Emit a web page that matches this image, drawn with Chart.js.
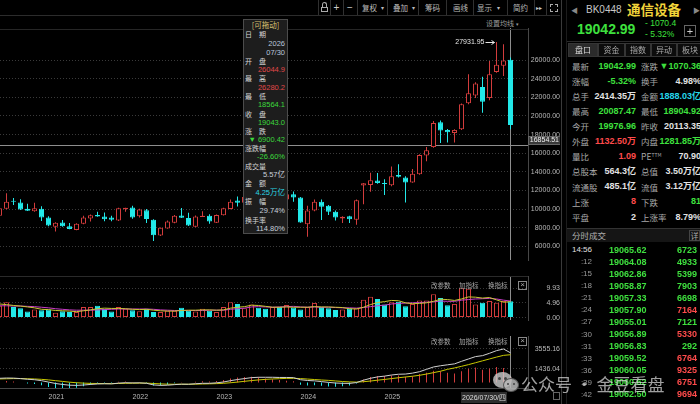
<!DOCTYPE html>
<html><head><meta charset="utf-8">
<script src="https://cdn.jsdelivr.net/npm/chart.js@4.4.1/dist/chart.umd.min.js"></script>
<style>
html,body{margin:0;padding:0;background:#000;}
body{width:700px;height:404px;overflow:hidden;position:relative;font-family:"Noto Sans CJK SC","Liberation Sans",sans-serif;color:#bbb;}
.a{position:absolute;white-space:nowrap;line-height:1;}
.wrap{position:absolute;}
</style></head><body>
<div class="wrap" style="left:0;top:28px;width:560px;height:248px"><canvas id="cPrice"></canvas></div>
<div class="wrap" style="left:0;top:276px;width:560px;height:60px"><canvas id="cVol"></canvas></div>
<div class="wrap" style="left:0;top:336px;width:560px;height:68px"><canvas id="cMacd"></canvas></div>
<div id="ov"></div>
<script>
// ---------------- data ----------------
const months = ['2020-06','2020-07','2020-08','2020-09','2020-10','2020-11','2020-12',
'2021-01','2021-02','2021-03','2021-04','2021-05','2021-06','2021-07','2021-08','2021-09','2021-10','2021-11','2021-12',
'2022-01','2022-02','2022-03','2022-04','2022-05','2022-06','2022-07','2022-08','2022-09','2022-10','2022-11','2022-12',
'2023-01','2023-02','2023-03','2023-04','2023-05','2023-06','2023-07','2023-08','2023-09','2023-10','2023-11','2023-12',
'2024-01','2024-02','2024-03','2024-04','2024-05','2024-06','2024-07','2024-08','2024-09','2024-10','2024-11','2024-12',
'2025-01','2025-02','2025-03','2025-04','2025-05','2025-06','2025-07','2025-08','2025-09','2025-10','2025-11','2025-12',
'2026-01','2026-02','2026-03','2026-04','2026-05','2026-06','2026-07'];
const open = [9300,10052,10860,10723,10052,9784,10052,9112,8105,8575,
8172,7769,8441,9011,9381,9213,9112,8777,9985,10187,
9247,9884,8877,7165,7937,8541,9314,9045,8105,9146,
9280,8541,9347,10019,10925,10700,11300,11900,11400,10900,
11350,11026,11596,11261,8374,9851,10791,10354,9717,9011,
9247,8877,12536,12604,13073,12805,12570,13678,13409,12872,
13744,15758,16664,19316,18510,18175,18578,21364,22203,23110,
21935,24721,25392,26044.9];
const high = [10300,11697,11193,11059,10589,10690,10321,9247,8609,8844,
8508,8500,9280,9414,9717,9649,9280,10153,10160,10354,
10052,10019,8910,8040,8777,9381,10120,9616,9314,9784,
9448,9420,10150,11025,11361,11500,12200,12100,11500,11600,
11450,11700,11898,11294,10354,11026,11026,10455,9851,9247,
9280,11026,12805,13913,13879,13208,14584,14819,13543,14316,
15890,16664,19451,19518,18611,18577,21331,24486,23613,24217,
25896,27931.95,27700,26280.2];
const low = [9200,10000,10455,9900,9790,9717,8743,8172,7601,8120,
7840,7730,8380,8676,9180,8709,8700,8740,9717,8978,
9110,8508,6595,7130,7900,8480,9040,8200,8070,9146,
8441,8510,9310,9985,10287,10550,11100,11200,10700,10800,
10850,10950,10791,8541,7031,9784,8844,9381,8777,8508,
8508,8340,10522,11865,12738,11529,12469,13409,10723,12840,
13700,15154,16600,17101,17168,17168,18510,21263,21935,20357,
21700,24650,24285,18564.1];
const close = [10100,10790,10800,9951,9817,10086,9112,8239,8541,8172,
7870,8441,9112,9347,9213,8911,8877,10086,10153,9112,
9951,8945,7199,8004,8676,9280,9079,8239,9213,9280,
8676,9381,10086,10790,10690,11300,11900,11400,10900,11350,
11000,11596,11261,8575,9851,10791,10254,9717,9112,9179,
8911,10958,12771,13107,12805,12704,13543,13476,12872,13790,
15825,16329,19249,18443,18242,18510,21263,22438,23479,21532,
24486,25493,25963,19043.0];
const volume = [3.97,5.21,3.56,3.14,2.07,2.73,2.48,2.73,1.66,2.15,
1.90,1.90,3.56,3.56,3.97,2.98,2.07,3.56,2.98,2.48,
2.15,2.98,1.90,1.90,2.32,2.32,3.31,2.32,2.07,2.98,
2.32,1.90,3.56,5.21,4.63,3.14,4.39,3.31,2.98,3.56,
3.56,4.22,3.39,2.73,3.56,4.97,3.56,3.14,2.57,2.73,
3.14,3.14,6.04,7.03,6.29,4.39,5.21,5.38,3.81,4.63,
5.79,5.79,7.94,6.62,4.14,4.63,9.93,9.76,4.39,5.05,
5.63,5.05,5.63,5.57];
const volMA5 = [4.6,4.4,4.1,3.9,3.6,3.3,2.8,2.7,2.4,2.3,
2.2,2.0,2.3,2.6,3.0,3.2,3.1,3.1,3.0,2.8,
2.7,2.8,2.5,2.3,2.2,2.2,2.4,2.5,2.5,2.6,
2.6,2.5,2.6,3.2,3.5,3.7,4.2,4.1,3.8,3.5,
3.5,3.6,3.5,3.5,3.5,3.7,3.6,3.6,3.5,3.4,
3.0,2.9,3.5,4.4,5.1,5.4,5.8,5.7,5.0,4.7,
4.8,5.0,5.5,6.2,6.1,5.8,6.3,7.0,6.9,6.6,
6.8,6.0,5.2,5.4];
const volMA10 = [4.0,4.0,3.9,3.9,3.8,3.7,3.5,3.3,3.0,2.8,
2.6,2.5,2.5,2.5,2.6,2.7,2.8,2.9,2.9,2.9,
2.9,2.9,2.8,2.6,2.5,2.4,2.4,2.4,2.4,2.4,
2.5,2.5,2.5,2.8,3.0,3.2,3.6,3.7,3.6,3.5,
3.6,3.7,3.8,3.6,3.5,3.6,3.5,3.5,3.4,3.3,
3.3,3.2,3.4,3.7,4.0,4.2,4.6,4.8,4.9,5.0,
5.1,5.2,5.3,5.6,5.5,5.5,5.9,6.1,6.3,6.4,
6.5,6.3,5.9,5.6];
const dif = [450,480,470,420,350,300,200,50,-100,-200,
-280,-300,-260,-200,-150,-130,-140,-60,-20,-40,
-30,-80,-250,-300,-280,-220,-170,-180,-130,-80,
-80,-30,60,200,320,420,520,560,560,560,
540,540,520,300,220,180,100,20,-50,-80,
-90,0,250,450,600,680,800,880,900,1000,
1150,1400,1650,1780,1880,1980,2250,2500,2750,2850,
3100,3380,3555.16,3150];
const dea = [380,400,420,420,400,380,340,280,200,120,
40,-20,-60,-90,-100,-110,-115,-100,-80,-70,
-60,-60,-100,-140,-170,-180,-180,-180,-170,-150,
-135,-115,-80,-20,50,130,210,280,340,380,
410,440,450,420,370,320,270,230,170,110,
70,50,90,160,250,330,420,510,590,670,
770,900,1050,1200,1400,1550,1720,1900,2100,2300,
2500,2700,2880,2950];
const macdHist = [140,160,100,0,-100,-160,-280,-460,-600,-620,
-600,-560,-400,-220,-100,-40,-50,80,120,60,
60,-40,-300,-320,-220,-80,20,0,80,140,
110,170,280,440,540,580,620,560,440,360,
260,200,140,-240,-300,-280,-340,-420,-440,-380,
-320,-100,320,580,700,700,760,740,620,660,
900,1050,1250,1200,1050,950,1200,1450,1600,1350,
1500,1650,1550,600];
const priceTicks = [6000,8000,10000,12000,14000,16000,18000,20000,22000,24000,26000];
const volTicks = [0,4.96,9.93];
const macdTicks = [1436.04,3555.16];
const cursorIndex = 73;
const cursorPrice = 16854.51;
const peakIndex = 71;

// ---------------- styling ----------------
const RED='#d23c3c', CYAN='#22e8e8', GRID='#3a3a3a', EDGE='#474747', LBL='#b8b8b8';
const AX_FONT={family:'Liberation Sans', size:7};
const X_MIN=0.5/7, X_MAX=(0.5+528)/7;
const idx = months.map((_,i)=>i);
const up = i => close[i] >= open[i];

const mctx=document.createElement('canvas').getContext('2d');
mctx.font='7px "Liberation Sans"';
function padFor(labels){ return Math.max(0, 31 - Math.max(...labels.map(s=>mctx.measureText(s).width))); }

function xAxis(show){
  return {type:'linear', min:X_MIN, max:X_MAX, offset:false, display:show,
    grid:{display:false, drawTicks:false},
    border:{display:show, color:EDGE},
    afterBuildTicks:s=>{ s.ticks = idx.filter(i=>months[i].endsWith('-01')).map(i=>({value:i})); },
    afterFit:s=>{ s.height=16; s.paddingLeft=0; s.paddingRight=0; },
    ticks:{autoSkip:false, maxRotation:0, minRotation:0, align:'start', padding:5, color:LBL, font:AX_FONT,
      callback:v=>months[v] ? months[v].slice(0,4) : ''}
  };
}
function yAxis(min,max,ticks,fmt){
  const labels = ticks.map(fmt);
  return {type:'linear', position:'right', min, max,
    afterBuildTicks:s=>{ s.ticks = ticks.map(v=>({value:v})); },
    afterFit:s=>{ s.width=32; s.paddingTop=0; s.paddingBottom=0; },
    grid:{color:GRID, drawTicks:false, lineWidth:1},
    border:{display:true, color:EDGE, dash:[1,2]},
    ticks:{crossAlign:'far', padding:padFor(labels), color:LBL, font:AX_FONT, callback:v=>fmt(v)}
  };
}

const cursorPlugin = {
  id:'cursor',
  beforeDatasetsDraw(chart, args, o){
    const {ctx, chartArea:a, scales:{x,y}} = chart;
    ctx.save(); ctx.strokeStyle='#8e8e8e'; ctx.lineWidth=1;
    const px = Math.floor(x.getPixelForValue(o.index))+0.5;
    ctx.beginPath(); ctx.moveTo(px, a.top); ctx.lineTo(px, a.bottom);
    if (o.price!=null){ const py=Math.floor(y.getPixelForValue(o.price))+0.5; ctx.moveTo(a.left,py); ctx.lineTo(a.right,py); }
    ctx.stroke(); ctx.restore();
  },
  afterDraw(chart, args, o){
    if (o.price==null) return;
    const {ctx, chartArea:a, scales:{x,y}} = chart;
    const py=Math.floor(y.getPixelForValue(o.price));
    ctx.save();
    ctx.fillStyle='#3a3a3a'; ctx.fillRect(a.right, py-9, 33, 9);
    ctx.strokeStyle='#666'; ctx.lineWidth=1; ctx.strokeRect(a.right+0.5, py-8.5, 32, 8);
    ctx.fillStyle='#f0f0f0'; ctx.font='7px "Liberation Sans"'; ctx.textAlign='right'; ctx.textBaseline='middle';
    ctx.fillText(o.price.toFixed(2), a.right+31, py-4.5);
    // peak annotation
    const hx = x.getPixelForValue(o.peak), hy = Math.round(y.getPixelForValue(high[o.peak]))+0.5;
    ctx.fillStyle='#e6e6e6'; ctx.fillText(high[o.peak].toFixed(2), hx-12, hy);
    ctx.strokeStyle='#e6e6e6'; ctx.beginPath(); ctx.moveTo(hx-11, hy); ctx.lineTo(hx-2, hy);
    ctx.moveTo(hx-5, hy-2); ctx.lineTo(hx-2, hy); ctx.lineTo(hx-5, hy+2); ctx.stroke();
    ctx.restore();
  }
};
const base = {animation:false, responsive:true, maintainAspectRatio:false, events:[], layout:{padding:0}};

new Chart(document.getElementById('cPrice'), {
  type:'bar',
  data:{datasets:[
    {label:'body', data:idx.map(i=>({x:i, y:[open[i], close[i]]})), grouped:false, barThickness:5, minBarLength:1, inflateAmount:0,
      backgroundColor:c=>up(c.dataIndex)?'#000':CYAN, borderColor:c=>up(c.dataIndex)?RED:CYAN, borderWidth:1, borderSkipped:false, order:0},
    {label:'wick', data:idx.map(i=>({x:i, y:[low[i], high[i]]})), grouped:false, barThickness:1, inflateAmount:0,
      backgroundColor:c=>up(c.dataIndex)?RED:CYAN, borderWidth:0, order:1}
  ]},
  options:Object.assign({}, base, {
    plugins:{legend:{display:false}, tooltip:{enabled:false}, cursor:{index:cursorIndex, price:cursorPrice, peak:peakIndex}},
    scales:{x:xAxis(false), y:yAxis(4544, 29444, priceTicks, v=>v.toFixed(2))}
  }),
  plugins:[cursorPlugin]
});

new Chart(document.getElementById('cVol'), {
  type:'bar',
  data:{datasets:[
    {type:'line', label:'MA5', data:idx.map(i=>({x:i, y:volMA5[i]})), borderColor:'#c8c832', borderWidth:1, pointRadius:0, order:0},
    {type:'line', label:'MA10', data:idx.map(i=>({x:i, y:volMA10[i]})), borderColor:'#c83cc8', borderWidth:1, pointRadius:0, order:0},
    {label:'vol', data:idx.map(i=>({x:i, y:volume[i]})), grouped:false, barThickness:5, inflateAmount:0,
      backgroundColor:c=>up(c.dataIndex)?'#000':CYAN, borderColor:c=>up(c.dataIndex)?RED:CYAN, borderWidth:1, borderSkipped:false, order:2}
  ]},
  options:Object.assign({}, base, {
    plugins:{legend:{display:false}, tooltip:{enabled:false}, cursor:{index:cursorIndex, price:null}},
    scales:{x:xAxis(false), y:yAxis(-0.82, 14.08, volTicks, v=>v.toFixed(2))}
  }),
  plugins:[cursorPlugin]
});

new Chart(document.getElementById('cMacd'), {
  type:'bar',
  data:{datasets:[
    {type:'line', label:'DIF', data:idx.map(i=>({x:i, y:dif[i]})), borderColor:'#d0d0d0', borderWidth:1, pointRadius:0, order:0},
    {type:'line', label:'DEA', data:idx.map(i=>({x:i, y:dea[i]})), borderColor:'#c8c800', borderWidth:1, pointRadius:0, order:0},
    {label:'MACD', data:idx.map(i=>({x:i, y:macdHist[i]})), grouped:false, barThickness:1, inflateAmount:0,
      backgroundColor:c=>macdHist[c.dataIndex]>=0?RED:CYAN, borderWidth:0, order:2}
  ]},
  options:Object.assign({}, base, {
    plugins:{legend:{display:false}, tooltip:{enabled:false}, cursor:{index:cursorIndex, price:null}},
    scales:{x:xAxis(true), y:yAxis(-577, 4932, macdTicks, v=>v.toFixed(2))}
  }),
  plugins:[cursorPlugin]
});

// ---------------- overlays (text) ----------------
const ov = document.getElementById('ov');
function T(txt, x, cy, o={}){
  const d=document.createElement('div'); d.className='a';
  const size=o.size||8; d.style.fontSize=size+'px';
  d.style.top=(cy-size/2)+'px';
  if(o.align==='right'){ d.style.right=(700-x)+'px'; }
  else if(o.align==='center'){ d.style.left=x+'px'; d.style.transform='translateX(-50%)'; }
  else d.style.left=x+'px';
  d.style.color=o.color||'#bbb';
  if(o.bold) d.style.fontWeight='bold';
  if(o.num) d.style.fontFamily='"Liberation Sans","Noto Sans CJK SC",sans-serif';
  if(o.ls) d.style.letterSpacing=o.ls+'px';
  d.innerHTML=txt; ov.appendChild(d); return d;
}
function R(x,y,w,h,bg,border,extra){
  const d=document.createElement('div'); d.className='a';
  d.style.left=x+'px'; d.style.top=y+'px'; d.style.width=w+'px'; d.style.height=h+'px';
  if(bg) d.style.background=bg; if(border) d.style.border='1px solid '+border;
  d.style.boxSizing='border-box'; if(extra) Object.assign(d.style, extra);
  ov.appendChild(d); return d;
}

// toolbar
R(0,15,560,1,'#2c2c2c');
[318,330,343,357,387,418,446,473,507,534,546].forEach(x=>R(x,0,1,15,'#303030'));
R(321,7,7,5,null,'#aaa'); R(322,2,5,6,null,'#aaa',{borderBottom:'none',borderRadius:'3px 3px 0 0',width:'5px'});
T('+',336.5,7.5,{align:'center',size:10,num:true,color:'#ccc'});
T('−',350,7.5,{align:'center',size:10,num:true,color:'#ccc'});
T('复权',362,7.5,{size:7.5}); T('▾',381,7.5,{size:6});
T('叠加',393,7.5,{size:7.5}); T('▾',412,7.5,{size:6});
T('筹码',425,7.5,{size:7.5});
T('画线',453,7.5,{size:7.5});
T('显示',477,7.5,{size:7.5}); T('▾',497,7.5,{size:6});
T('简约',513,7.5,{size:7.5});
T('▸▸',536,7.5,{size:6,color:'#ccc'});
R(550,4,8,8,null,null,{border:'1px dashed #aaa'});
T('设置均线',486,23,{size:7,color:'#9a9a9a'}); T('▾',516,23,{size:5,color:'#9a9a9a'});
R(0,29,528,1,'#262626');
R(0,276,528,1,'#2a2a2a');

// panel headers
[[285],[341]].forEach(([cy])=>{
  T('改参数',431,cy,{size:6.5,color:'#a8a8a8'});
  T('加指标',459,cy,{size:6.5,color:'#a8a8a8'});
  T('换指标',488,cy,{size:6.5,color:'#a8a8a8'});
  R(518,cy-4.5,9,9,null,'#888');
  T('×',522.5,cy,{align:'center',size:8,num:true,color:'#aaa'});
});

// tooltip box
R(243,19,45,215,'#1d1d1d','#4c4c4c');
const tipY=[25,34.5,43.3,52.5,61.5,70,78.6,87.3,96,105,114,122.5,131,140,148,157,166,175,183.5,192.5,201.5,210.5,220,229];
const tip=[
 ['[可拖动]','c','#d8c070'],['日　期','l'],['2026','r','#b9c6dc'],['07/30','r','#b9c6dc'],
 ['开　盘','l'],['26044.9','r','#e04848'],['最　高','l'],['26280.2','r','#e04848'],
 ['最　低','l'],['18564.1','r','#3cd83c'],['收　盘','l'],['19043.0','r','#3cd83c'],
 ['涨　跌','l'],['▼ 6900.42','r','#3cd83c'],['涨跌幅','l'],['-26.60%','r','#3cd83c'],
 ['成交量','l'],['5.57亿','r','#c8d0dc'],['金　额','l'],['4.25万亿','r','#2ad6e6'],
 ['振　幅','l'],['29.74%','r','#c8d0dc'],['换手率','l'],['114.80%','r','#c8d0dc']];
tip.forEach((r,k)=>{
  const [t,al,col]=r;
  if(al==='c') T(t,265.5,tipY[k],{align:'center',size:7.5,color:col});
  else if(al==='l') T(t,245,tipY[k],{size:7,color:'#d6d6d6'});
  else T(t,285,tipY[k],{align:'right',size:7.5,num:true,color:col});
});

// date label on x axis
R(461,392,46,11,'#2d2d2d');
T('2026/07/30/四',484,397.5,{align:'center',size:7,num:true,color:'#dedede'});
R(553,392,7,8,null,'#666');

// watermark
R(493,372,19,16,'rgba(205,205,205,0.8)',null,{borderRadius:'50%'});
R(503,378,16,14,'rgba(185,185,185,0.85)',null,{borderRadius:'50%',border:'1px solid #555'});
R(498,377,3,3,'#444',null,{borderRadius:'50%'}); R(504,377,3,3,'#444',null,{borderRadius:'50%'});
R(507,383,2,2,'#444',null,{borderRadius:'50%'}); R(513,383,2,2,'#444',null,{borderRadius:'50%'});

// right panel
R(560,0,140,404,'#000');
R(561,0,1,404,'#3a3a3a'); R(566,0,1,404,'#1c1c1c');
T('◀',571,10,{size:7,color:'#888',num:true});
T('BK0448',586,10,{size:10,num:true,color:'#c8c8c8'});
T('通信设备',627,9.5,{size:13.5,bold:true,color:'#f2d43a'});
T('▶',693,10,{size:7,color:'#888',num:true});
T('19042.99',577,29,{size:14,bold:true,num:true,color:'#3ee03e'});
T('- 1070.4',645,23.5,{size:8.5,num:true,color:'#3ee03e'});
T('- 5.32%',645,34,{size:8.5,num:true,color:'#3ee03e'});
R(684,25,12,12,null,'#666');
T('+',690,31,{align:'center',size:11,num:true,color:'#ccc'});
R(567,41,133,1,'#2a2a2a');
const tabs=[['盘口',568,598],['资金',598,625],['指数',625,651],['异动',651,677],['板块',677,703]];
tabs.forEach(([t,a,b],k)=>{ R(a,43,b-a,14,k===0?'#2b2b2b':'#0c0c0c','#353535'); T(t,(a+b)/2,50,{align:'center',size:8,color:k===0?'#ddd':'#aaa'}); });

const COL={g:'#3ee03e',r:'#ff4b4b',c:'#26d6ea',w:'#e2e2e2'};
const quoteRows=[
 ['最新','19042.99','g','涨跌','▼1070.36','g'],
 ['涨幅','-5.32%','g','换手','4.98%','w'],
 ['总手','2414.35万','w','金额','1888.03亿','c'],
 ['最高','20087.47','g','最低','18904.92','g'],
 ['今开','19976.96','g','昨收','20113.35','w'],
 ['外盘','1132.50万','r','内盘','1281.85万','g'],
 ['量比','1.09','r','PE<sup style="font-size:5px;vertical-align:top">TTM</sup>','70.90','w'],
 ['总股本','564.3亿','w','总值','3.50万亿','w'],
 ['流通股','485.1亿','w','流值','3.12万亿','w'],
 ['上涨','8','r','下跌','81','g'],
 ['平盘','2','w','上涨率','8.79%','w']];
quoteRows.forEach((r,k)=>{
  const cy=66+15.1*k;
  T(r[0],572,cy,{size:8.5,color:'#a8a8a8'});
  T(r[1],636,cy,{align:'right',size:9,bold:true,num:true,color:COL[r[2]]});
  T(r[3],641,cy,{size:8.5,color:'#a8a8a8'});
  T(r[4],701,cy,{align:'right',size:9,bold:true,num:true,color:COL[r[5]]});
});

R(567,228,133,14,'#151515'); R(567,228,133,1,'#333');
T('分时成交',572,235,{size:8.5,color:'#b0b0b0'});
R(689,230,11,11,null,'#444'); T('详',694.5,235.5,{align:'center',size:8,color:'#aaa'});

const tradeTimes=['14:56',':12',':15',':18',':21',':24',':27',':30',':31',':33',':36',':39',':42'];
const tradePrices=[19065.62,19064.08,19062.86,19058.87,19057.33,19057.90,19055.01,19056.89,19056.83,19059.52,19060.05,19060.62,19062.50];
const tradeVols=[6723,4933,5399,7903,6698,7164,7121,5330,292,6764,9325,6751,9694];
const tradeSide=['g','g','g','g','g','r','g','r','g','r','r','r','r'];
tradeTimes.forEach((t,k)=>{
  const cy=250+12.08*k;
  T(t,592,cy,{align:'right',size:8,num:true,color:k===0?'#e0e0e0':'#9a9a9a'});
  T(tradePrices[k].toFixed(2),609,cy,{size:9,bold:true,num:true,color:COL.g});
  T(String(tradeVols[k]),697,cy,{align:'right',size:9,bold:true,num:true,color:COL[tradeSide[k]]});
});

// watermark text (on top)
T('公众号 · 金豆看盘',521,383,{size:17,color:'rgba(222,222,222,0.72)'});
</script>
</body></html>
